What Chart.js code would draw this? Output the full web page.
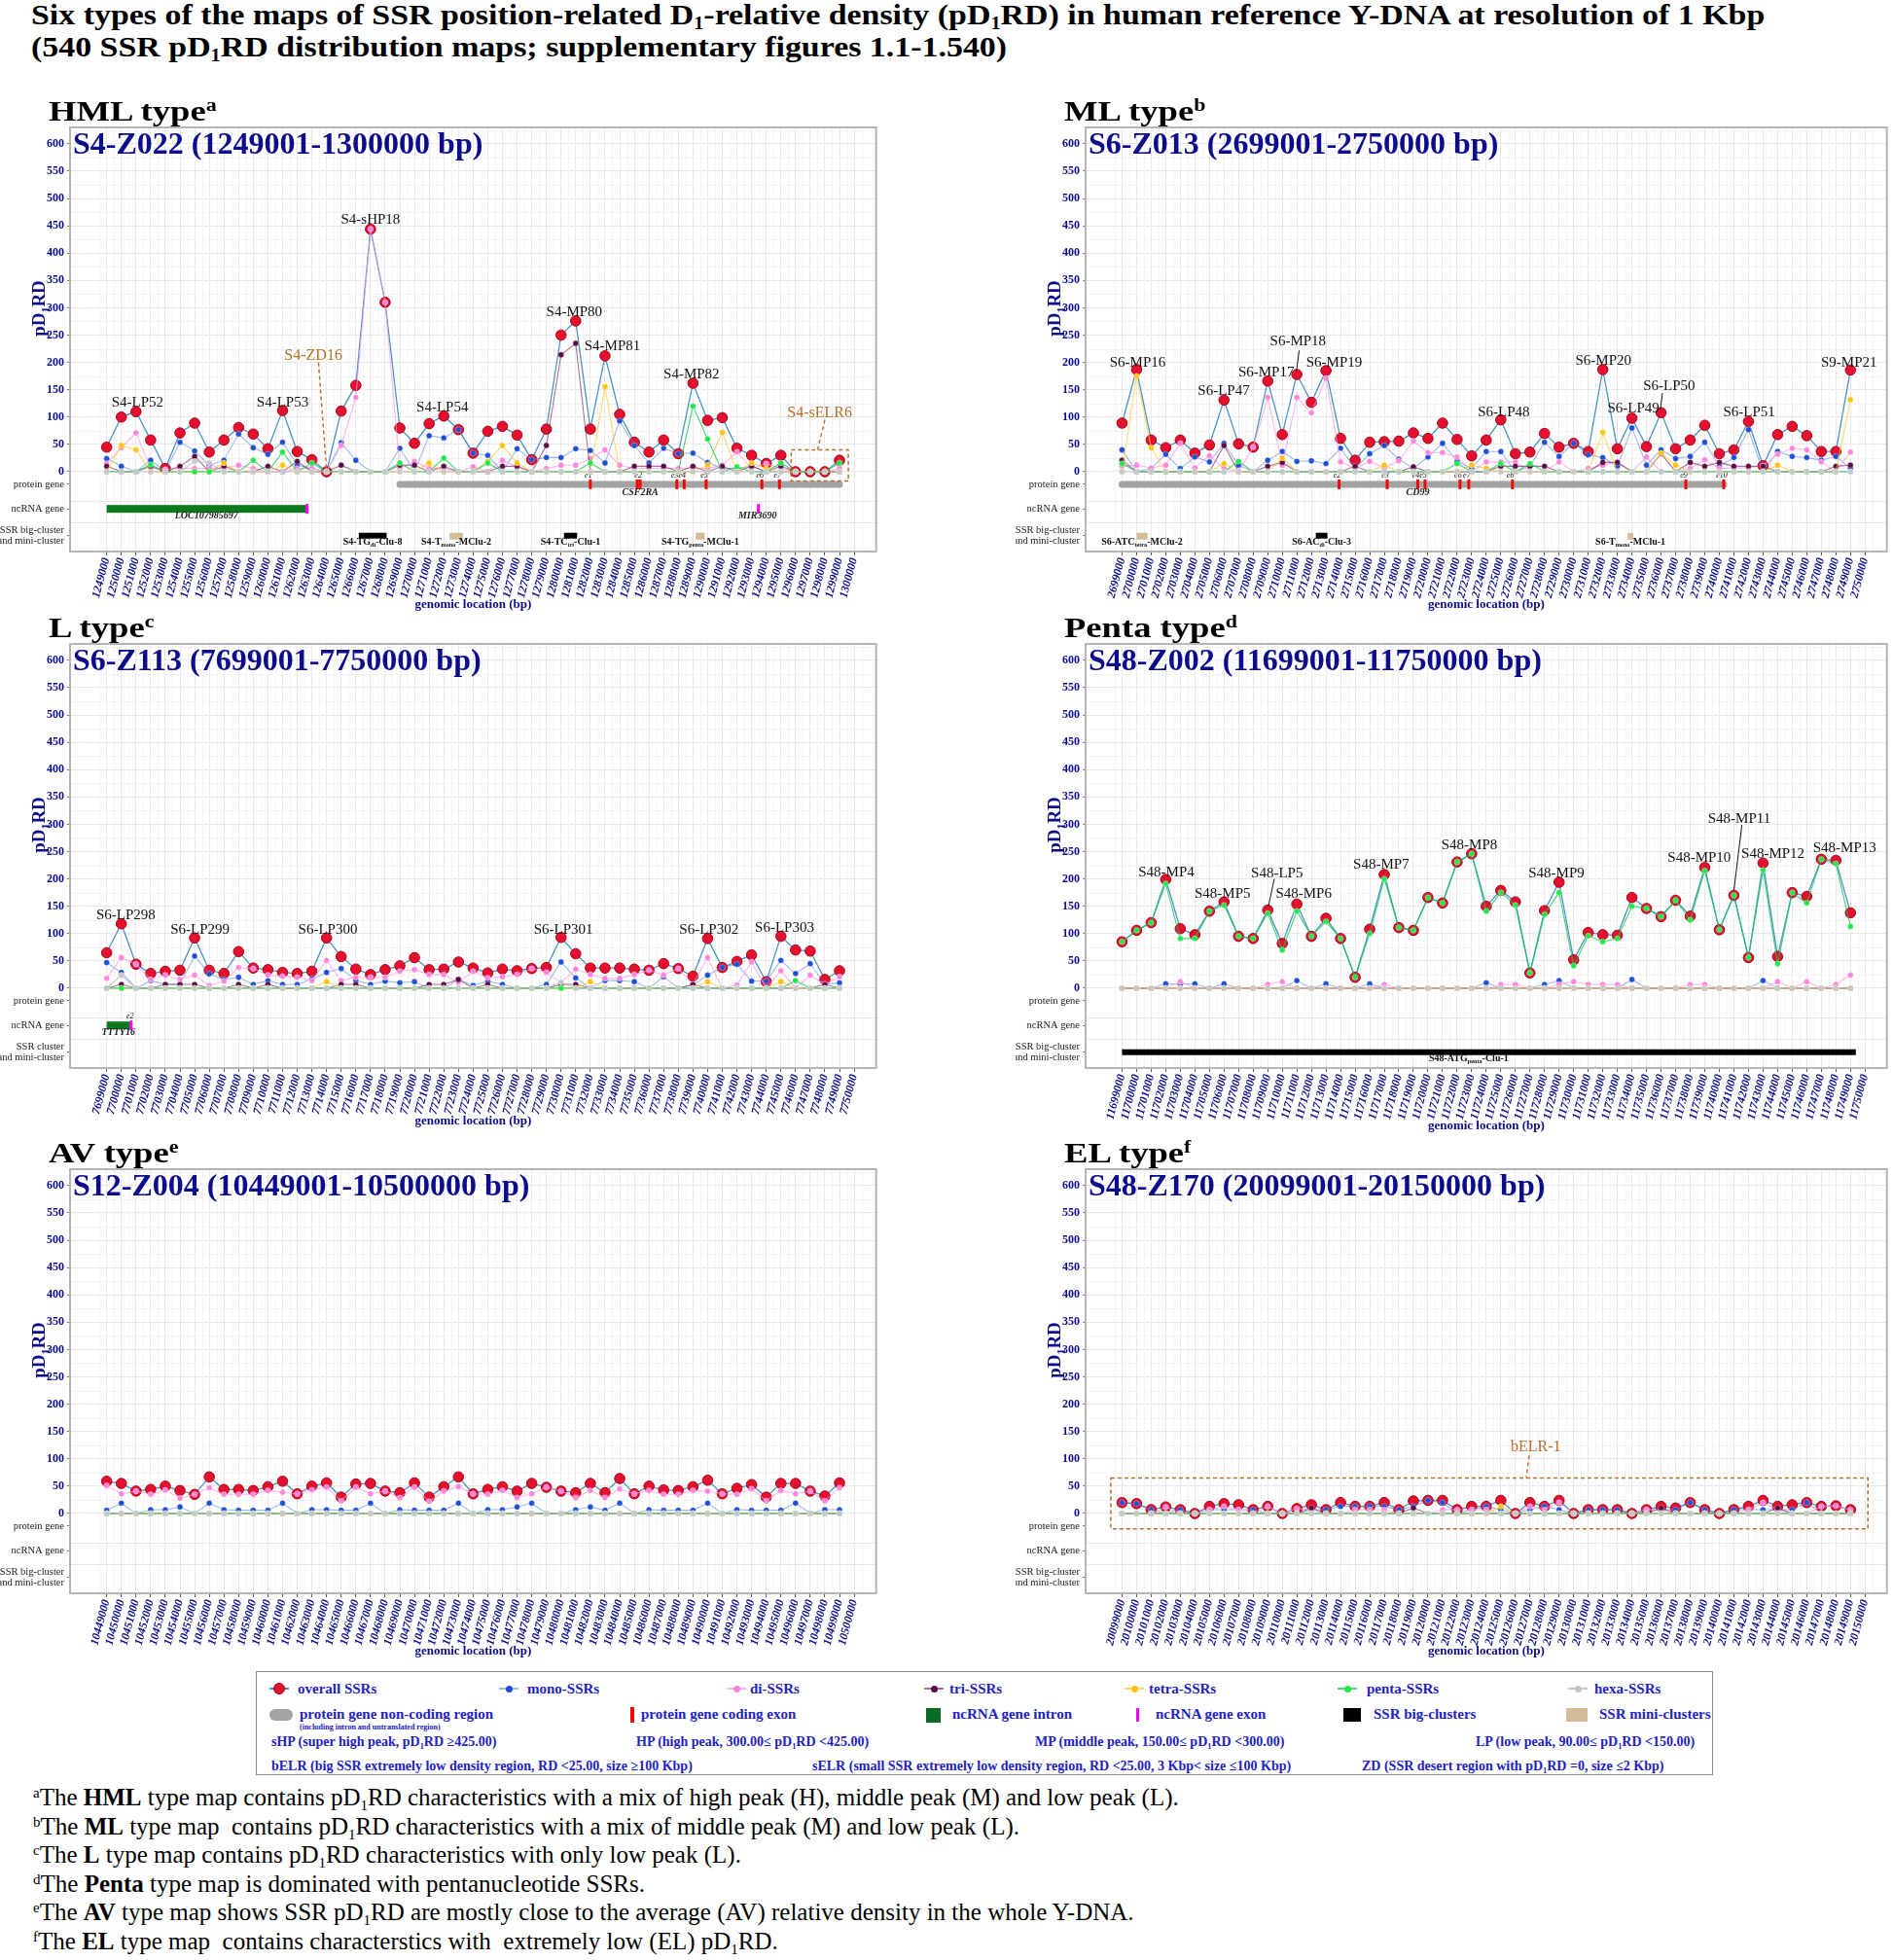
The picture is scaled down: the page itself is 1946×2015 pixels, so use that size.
<!DOCTYPE html>
<html>
<head>
<meta charset="utf-8">
<script src="https://cdn.jsdelivr.net/npm/chart.js@4.4.1/dist/chart.umd.min.js"></script>
<style>
  body { margin: 0; background: #fff; width: 1946px; height: 2015px; position: relative; overflow: hidden;
         font-family: "Liberation Serif", "Times New Roman", serif; }
  .abs { position: absolute; white-space: nowrap; }
  .title { left: 32px; top: -2px; font-weight: bold; font-size: 30px; line-height: 33px; color: #000;
           transform: scaleX(1.13); transform-origin: 0 0; }
  sub { font-size: 60%; vertical-align: -0.3em; line-height: 0; }
  sup { font-size: 60%; vertical-align: 0.55em; line-height: 0; }
  .head { font-weight: bold; font-size: 30px; line-height: 28px; color: #000; transform: scaleX(1.22); transform-origin: 0 0; }
  .lg { font-weight: bold; font-size: 15px; line-height: 18px; color: #2222c4; }
  .lg2 { font-weight: bold; font-size: 14px; line-height: 18px; color: #2222c4; }
  .foot { left: 34px; font-size: 25px; line-height: 24px; color: #000; }
  canvas { display: block; }
</style>
</head>
<body>
<div class="abs title">Six types of the maps of SSR position-related D<sub>1</sub>-relative density (pD<sub>1</sub>RD) in human reference Y-DNA at resolution of 1 Kbp<br>(540 SSR pD<sub>1</sub>RD distribution maps; supplementary figures 1.1-1.540)</div>
<div id="root"></div>
<script>
// ---------- HML type: S4-Z022 ----------
const hmlOverall = [45,100,110,58,6,71,89,36,58,81,69,42,112,37,22,0,111,158,444,310,80,52,88,102,77,34,74,83,67,22,78,250,276,78,212,105,54,36,58,33,162,94,99,43,30,15,30,0,0,0,21];
const hmlMono    = [24,10,0,21,0,54,38,12,21,69,44,32,54,12,6,0,53,21,0,0,43,0,66,62,77,34,30,0,42,22,26,26,42,39,16,93,48,16,43,33,34,17,6,6,10,0,0,0,0,0,0];
const hmlDi      = [15,44,71,6,4,6,6,6,6,12,6,0,0,6,6,0,48,136,444,310,6,19,6,6,0,9,0,21,9,0,6,12,12,24,40,12,6,6,6,6,6,6,12,36,6,15,6,0,0,0,6];
const hmlTri     = [10,0,0,10,0,10,28,0,10,0,0,10,0,19,0,0,12,0,0,0,12,12,0,10,0,0,0,10,10,0,48,214,235,0,0,0,10,10,10,0,10,0,10,0,10,0,10,0,0,0,0];
const hmlTetra   = [0,48,40,0,0,0,0,0,16,0,0,0,12,0,0,0,0,0,0,0,0,0,16,0,0,0,19,48,16,0,0,0,0,0,156,0,0,0,0,0,0,12,72,0,16,6,0,0,0,0,0];
const hmlPenta   = [0,0,0,13,0,0,0,0,0,0,21,0,36,0,16,0,0,0,0,0,16,0,0,25,0,0,16,0,0,0,0,0,0,16,0,0,0,0,0,0,120,60,0,9,0,0,16,0,0,0,16];
const hmlHexa    = [0,0,0,0,0,0,19,16,0,0,0,0,0,0,0,0,0,0,0,0,0,0,0,0,0,0,0,0,0,0,0,0,0,0,0,0,0,0,0,0,0,0,0,0,0,0,0,0,0,0,0];
const hmlPeaks = [
  {t: 'S4-LP52', x: 2.1, y: 126}, {t: 'S4-LP53', x: 12, y: 126}, {t: 'S4-sHP18', x: 18, y: 460},
  {t: 'S4-LP54', x: 22.9, y: 118}, {t: 'S4-MP80', x: 31.9, y: 292}, {t: 'S4-MP81', x: 34.5, y: 229},
  {t: 'S4-MP82', x: 39.9, y: 178}, {t: 'S4-ZD16', x: 14.1, y: 212, brown: true}, {t: 'S4-sELR6', x: 48.65, y: 107, brown: true}
];
const hmlLeaders = [{x1: 14.45, y1: 200, x2: 15, y2: 4, brown: true}, {x1: 49.0, y1: 95, x2: 48.5, y2: 40, brown: true}];
const hmlRegions = [{x1: 46.7, x2: 50.6, y1: 40, y2: -17}];
const hmlGene = {from: 20, to: 50, name: 'CSF2RA', nameAt: 36.4,
  exons: [[33.0, 'e1'], [36.2, ''], [36.4, 'e2'], [38.9, 'e3'], [39.4, 'e4'], [40.9, 'e5'], [44.7, 'e6'], [45.9, 'e7']]};
const hmlRna = [{from: 0, to: 13.6, name: 'LOC107985697', nameAt: 6.8}, {from: 44.4, to: 44.4, name: 'MIR3690', nameAt: 44.4}];
const hmlClusters = [
  {from: 17.2, to: 19.1, big: true, lab: ['S4-TG', 'di', '-Clu-8']},
  {from: 23.4, to: 24.3, big: false, lab: ['S4-T', 'mono', '-MClu-2']},
  {from: 31.2, to: 32.1, big: true, lab: ['S4-TC', 'tri', '-Clu-1']},
  {from: 40.2, to: 40.8, big: false, lab: ['S4-TG', 'penta', '-MClu-1']}
];

// ---------- ML type: S6-Z013 ----------
const mlOverall = [89,187,58,44,58,34,49,131,51,45,166,68,178,127,185,61,21,54,55,56,71,61,89,59,29,58,95,33,36,70,45,52,37,187,42,98,46,108,42,58,85,33,40,92,11,68,83,66,37,37,186];
const mlMono    = [40,0,6,32,6,27,18,52,12,0,21,37,19,20,15,43,6,33,48,23,6,27,52,19,6,37,37,0,10,54,28,52,31,26,10,80,12,40,24,28,54,10,26,77,0,37,28,26,21,28,6];
const mlDi      = [10,12,7,12,52,7,29,6,0,45,136,12,136,108,171,18,6,19,7,20,56,35,35,27,0,18,18,18,0,0,18,0,6,12,18,0,27,0,0,6,22,6,7,7,11,32,43,40,18,0,36];
const mlTri     = [21,0,0,0,0,0,0,48,0,0,10,17,0,0,0,0,10,0,0,0,9,0,0,0,0,0,10,10,10,10,0,0,0,17,17,0,0,33,0,17,10,17,10,10,10,0,0,0,0,10,12];
const mlTetra   = [0,175,44,0,0,0,0,15,0,0,0,25,0,0,0,0,0,0,12,0,0,0,0,0,12,6,0,0,0,0,0,0,0,72,0,0,0,34,12,0,0,0,0,0,0,12,0,0,0,0,132];
const mlPenta   = [15,0,0,0,0,0,0,0,19,0,0,0,0,0,0,0,0,0,0,0,0,0,0,15,0,0,15,0,15,0,0,0,0,0,0,0,0,0,0,0,0,0,0,0,0,0,0,0,0,0,0];
const mlHexa    = [0,0,0,0,0,0,0,0,0,0,0,0,0,0,0,0,0,0,0,0,0,0,0,0,0,0,0,0,0,0,0,0,0,0,0,0,0,0,0,0,0,0,0,0,0,0,0,0,0,0,0];
const mlPeaks = [
  {t: 'S6-MP16', x: 1.07, y: 200}, {t: 'S6-LP47', x: 6.98, y: 147}, {t: 'S6-MP17', x: 9.9, y: 181},
  {t: 'S6-MP18', x: 12.08, y: 238}, {t: 'S6-MP19', x: 14.56, y: 200}, {t: 'S6-LP48', x: 26.2, y: 109},
  {t: 'S6-MP20', x: 33.04, y: 202}, {t: 'S6-LP49', x: 35.1, y: 115}, {t: 'S6-LP50', x: 37.55, y: 156},
  {t: 'S6-LP51', x: 43.05, y: 108}, {t: 'S9-MP21', x: 49.9, y: 200}
];
const mlLeaders = [{x1: 12.16, y1: 222, x2: 11.97, y2: 184}, {x1: 37.1, y1: 144, x2: 36.95, y2: 114}];
const mlGene = {from: 0, to: 41.3, name: 'CD99', nameAt: 20.3,
  exons: [[14.9, 'e2'], [18.2, 'e3'], [20.3, 'e4'], [20.8, 'e5'], [23.2, 'e6'], [23.8, 'e7'], [26.8, 'e8'], [38.7, 'e9'], [41.3, 'e10']]};
const mlClusters = [
  {from: 1.0, to: 1.75, big: false, lab: ['S6-ATC', 'tetra', '-MClu-2']},
  {from: 13.3, to: 14.1, big: true, lab: ['S6-AC', 'di', '-Clu-3']},
  {from: 34.7, to: 35.1, big: false, lab: ['S6-T', 'mono', '-MClu-1']}
];

// ---------- L type: S6-Z113 ----------
const lOverall = [65,118,44,27,31,33,92,33,27,67,37,34,29,27,31,92,58,35,25,34,41,56,34,35,48,37,28,35,32,36,38,93,63,37,37,37,35,33,45,36,22,91,38,49,61,12,95,70,68,16,32];
const lMono    = [47,29,0,14,7,7,59,26,16,20,7,14,7,7,17,29,36,14,7,13,10,12,0,0,16,5,13,7,0,0,7,48,19,0,14,14,12,0,21,0,6,24,38,44,13,13,51,27,45,7,10];
const lDi      = [18,56,44,16,24,16,24,5,13,38,36,24,22,20,14,51,14,20,20,20,31,34,25,25,11,31,19,21,25,36,29,10,35,25,18,18,25,33,24,36,7,56,0,6,48,0,32,0,24,7,21];
const lTri     = [0,7,0,0,7,7,7,0,0,7,0,7,0,0,0,0,7,7,0,0,0,0,7,7,16,0,7,0,0,0,0,7,7,0,0,0,0,0,0,0,7,0,0,0,0,0,0,0,0,7,0];
const lTetra   = [0,0,0,0,0,0,0,0,0,0,0,0,0,0,0,12,0,0,0,0,0,0,0,0,0,0,0,0,0,0,0,0,0,12,0,0,0,0,0,0,0,12,0,0,0,0,12,0,0,0,0];
const lPenta   = [0,0,0,0,0,0,0,0,0,0,0,0,0,0,0,0,0,0,0,0,0,0,0,0,0,0,0,0,0,0,0,0,0,0,0,0,0,0,0,0,0,0,0,0,0,0,0,14,0,0,0];
const lHexa    = [0,24,0,0,0,0,0,0,0,0,0,0,0,0,0,0,0,0,0,0,0,0,0,0,0,0,0,0,0,0,0,11,0,0,0,0,0,0,0,0,0,0,0,0,0,0,0,0,0,0,0];
const lPeaks = [
  {t: 'S6-LP298', x: 1.31, y: 133}, {t: 'S6-LP299', x: 6.37, y: 107}, {t: 'S6-LP300', x: 15.09, y: 107},
  {t: 'S6-LP301', x: 31.16, y: 107}, {t: 'S6-LP302', x: 41.09, y: 107}, {t: 'S6-LP303', x: 46.25, y: 111}
];
const lRna = [{from: 0, to: 1.6, name: 'TTTY16', nameAt: 0.8, tag: 'e2'}];

// ---------- Penta type: S48-Z002 ----------
const pnOverall = [85,106,120,199,109,98,141,158,95,91,143,82,154,95,128,91,20,108,208,111,106,166,156,231,246,150,179,158,28,142,194,52,102,98,97,166,146,131,161,132,221,107,170,56,229,58,175,168,236,234,138];
const pnMono    = [0,0,0,8,8,8,0,8,0,0,0,0,14,0,8,0,0,8,0,0,0,0,0,0,0,10,0,0,0,7,14,0,0,0,0,16,0,0,0,0,0,0,0,0,14,0,0,0,0,0,0];
const pnDi      = [0,0,0,0,12,0,0,0,0,0,7,12,0,0,0,0,0,0,7,0,0,0,0,0,0,0,7,7,0,0,7,12,7,7,7,0,0,0,0,7,7,0,0,0,0,12,0,12,0,7,24];
const pnTri     = [0,0,0,0,0,0,0,0,0,0,0,0,0,0,0,0,0,0,0,0,0,0,0,0,0,0,0,0,0,0,0,0,0,0,0,0,0,0,0,0,0,0,0,0,0,0,0,0,0,0,0];
const pnTetra   = pnTri;
const pnPenta   = [85,106,120,191,91,91,141,152,95,91,137,70,141,95,122,91,20,100,200,111,106,166,156,231,246,141,175,152,28,135,175,41,96,85,91,150,146,131,161,125,215,107,170,56,216,45,175,156,236,228,113];
const pnHexa    = pnTri;
const pnPeaks = [
  {t: 'S48-MP4', x: 3.04, y: 212}, {t: 'S48-MP5', x: 6.9, y: 172}, {t: 'S48-LP5', x: 10.64, y: 210},
  {t: 'S48-MP6', x: 12.47, y: 172}, {t: 'S48-MP7', x: 17.79, y: 225}, {t: 'S48-MP8', x: 23.84, y: 261},
  {t: 'S48-MP9', x: 29.82, y: 210}, {t: 'S48-MP10', x: 39.62, y: 239}, {t: 'S48-MP11', x: 42.37, y: 309},
  {t: 'S48-MP12', x: 44.68, y: 245}, {t: 'S48-MP13', x: 49.6, y: 257}
];
const pnLeaders = [{x1: 10.45, y1: 200, x2: 10.05, y2: 150}, {x1: 42.55, y1: 299, x2: 42.0, y2: 179}];
const pnClusters = [{from: 0, to: 50.37, big: true, at: 23.8, lab: ['S48-ATG', 'penta', '-Clu-1']}];

// ---------- AV type: S12-Z004 ----------
const avOverall = [59,55,41,44,50,42,35,67,44,44,42,49,59,36,50,56,30,54,55,41,38,56,30,49,67,36,44,49,41,55,48,41,38,55,38,64,36,50,43,42,49,61,36,46,53,30,55,55,41,32,56];
const avMono    = [6,19,0,7,7,12,0,19,7,6,6,6,19,0,7,7,6,6,19,0,7,6,6,6,19,0,7,7,12,19,0,0,7,12,6,19,0,7,6,6,6,19,0,7,6,6,6,19,0,7,7];
const avDi      = [51,36,41,35,43,28,35,47,35,35,35,42,39,36,43,48,23,48,36,41,29,48,22,41,49,36,35,42,29,36,48,41,29,42,29,45,36,42,35,35,42,41,36,35,45,23,42,36,41,23,47];
const avZero    = [0,0,0,0,0,0,0,0,0,0,0,0,0,0,0,0,0,0,0,0,0,0,0,0,0,0,0,0,0,0,0,0,0,0,0,0,0,0,0,0,0,0,0,0,0,0,0,0,0,0,0];

// ---------- EL type: S48-Z170 ----------
const elOverall = [20,18,7,12,7,0,13,18,16,7,13,0,9,16,7,20,13,13,20,7,23,24,24,7,13,13,24,0,20,13,24,0,7,7,7,0,7,13,10,20,7,0,7,13,24,13,16,20,13,14,7];
const elMono    = [20,18,7,0,7,0,7,7,7,7,0,0,0,7,7,13,13,13,13,7,13,24,20,0,7,13,7,0,7,13,7,0,7,7,7,0,7,7,7,20,7,0,7,7,7,7,7,20,0,0,0];
const elDi      = [0,0,0,12,0,0,7,13,7,0,13,0,9,7,0,0,7,7,7,0,0,0,7,7,7,7,0,0,13,7,20,0,0,0,0,0,7,7,0,0,0,0,0,7,20,7,0,0,13,14,7];
const elTri     = [0,0,0,0,0,0,0,0,0,0,0,0,0,10,0,0,0,0,0,0,10,0,0,0,0,0,0,0,0,0,0,0,0,0,0,0,0,10,0,0,0,0,0,0,0,10,0,0,0,0,0];
const elTetra   = [0,0,0,0,0,0,0,0,0,0,0,0,0,0,0,0,0,0,0,0,0,0,0,0,0,0,13,0,0,0,0,0,0,0,0,0,0,0,0,0,0,0,0,0,0,0,0,0,0,0,0];
const elPeaks = [{t: 'bELR-1', x: 28.4, y: 121, brown: true}];
const elLeaders = [{x1: 27.95, y1: 106, x2: 27.75, y2: 65, brown: true}];
const elRegions = [{x1: -0.77, x2: 51.2, y1: 65, y2: -28}];

const NAVY = '#0c0c8c';
const BROWN = '#b86f2c';
const FONT = '"Liberation Serif", "Times New Roman", serif';

const panels = [
  {id: 'hml', head: 'HML type', sup: 'a', title: 'S4-Z022 (1249001-1300000 bp)', start: 1249000, col: 0, top: 131,
   s: [hmlOverall, hmlMono, hmlDi, hmlTri, hmlTetra, hmlPenta, hmlHexa], peaks: hmlPeaks, leaders: hmlLeaders,
   regions: hmlRegions, gene: hmlGene, rna: hmlRna, clusters: hmlClusters},
  {id: 'ml', head: 'ML type', sup: 'b', title: 'S6-Z013 (2699001-2750000 bp)', start: 2699000, col: 1, top: 131,
   s: [mlOverall, mlMono, mlDi, mlTri, mlTetra, mlPenta, mlHexa], peaks: mlPeaks, leaders: mlLeaders,
   gene: mlGene, clusters: mlClusters},
  {id: 'l', head: 'L type', sup: 'c', title: 'S6-Z113 (7699001-7750000 bp)', start: 7699000, col: 0, top: 662,
   s: [lOverall, lMono, lDi, lTri, lTetra, lPenta, lHexa], peaks: lPeaks, rna: lRna, clusterName: 'SSR cluster'},
  {id: 'pn', head: 'Penta type', sup: 'd', title: 'S48-Z002 (11699001-11750000 bp)', start: 11699000, col: 1, top: 662,
   s: [pnOverall, pnMono, pnDi, pnTri, pnTetra, pnPenta, pnHexa], peaks: pnPeaks, leaders: pnLeaders, clusters: pnClusters},
  {id: 'av', head: 'AV type', sup: 'e', title: 'S12-Z004 (10449001-10500000 bp)', start: 10449000, col: 0, top: 1202,
   s: [avOverall, avMono, avDi, avZero, avZero, avZero, avZero]},
  {id: 'el', head: 'EL type', sup: 'f', title: 'S48-Z170 (20099001-20150000 bp)', start: 20099000, col: 1, top: 1202,
   s: [elOverall, elMono, elDi, elTri, elTetra, avZero, avZero], peaks: elPeaks, leaders: elLeaders, regions: elRegions}
];

const seriesStyle = [
  {line: '#4a93c9', pt: '#e5102e', bd: '#a3061c', r: 5.3, w: 1.3},           // overall
  {line: 'rgba(80,130,215,0.55)', pt: '#1d4fd6', r: 2.9, w: 1.1},            // mono
  {line: 'rgba(255,150,225,0.7)', pt: '#ff86da', r: 2.9, w: 1.1},            // di
  {line: 'rgba(110,20,80,0.6)', pt: '#5c0a45', r: 2.9, w: 1.1},              // tri
  {line: 'rgba(255,200,50,0.7)', pt: '#ffc20e', r: 2.9, w: 1.1},             // tetra
  {line: 'rgba(20,200,80,0.75)', pt: '#21e84a', r: 2.9, w: 1.2},             // penta
  {line: 'rgba(175,175,175,0.7)', pt: '#c6c6c6', r: 2.9, w: 1.1}             // hexa
];

const colX = [{boxL: 72, boxW: 830}, {boxL: 1116, boxW: 825}];
const BOX_H = 436, PAD_T = 12, LEFT_W = 72;
const yMain = [0, 50, 100, 150, 200, 250, 300, 350, 400, 450, 500, 550, 600];
const yTrack = {'-23': 'protein gene', '-68': 'ncRNA gene'};

function rich(ctx, parts, x, y, size, weight, style, align, color) {
  const f = s => `${style || 'normal'} ${weight || 'normal'} ${s}px ${FONT}`;
  let w = 0;
  parts.forEach((t, k) => { ctx.font = f(k % 2 ? size * 0.62 : size); w += ctx.measureText(t).width; });
  let cx = align === 'center' ? x - w / 2 : align === 'right' ? x - w : x;
  ctx.fillStyle = color; ctx.textAlign = 'left'; ctx.textBaseline = 'alphabetic';
  parts.forEach((t, k) => {
    const sub = k % 2 === 1;
    ctx.font = f(sub ? size * 0.62 : size);
    ctx.fillText(t, cx, sub ? y + size * 0.28 : y);
    cx += ctx.measureText(t).width;
  });
}

function deco(p) {
  return {
    id: 'deco',
    beforeDatasetsDraw(chart) {
      const {ctx, chartArea: a, scales: {x, y}} = chart;
      ctx.save();
      ctx.strokeStyle = '#f3f3f3'; ctx.lineWidth = 1;
      for (let v = 25; v <= 625; v += 50) {
        const py = Math.round(y.getPixelForValue(v)) + 0.5;
        ctx.beginPath(); ctx.moveTo(a.left, py); ctx.lineTo(a.right, py); ctx.stroke();
      }
      for (let v = -0.5; v <= 51.5; v += 1) {
        const px = Math.round(x.getPixelForValue(v)) + 0.5;
        ctx.beginPath(); ctx.moveTo(px, a.top); ctx.lineTo(px, a.bottom); ctx.stroke();
      }
      ctx.strokeStyle = '#e6e6e6';
      [-53, -93].forEach(v => {
        const py = Math.round(y.getPixelForValue(v)) + 0.5;
        ctx.beginPath(); ctx.moveTo(a.left, py); ctx.lineTo(a.right, py); ctx.stroke();
      });
      // protein gene track
      if (p.gene) {
        const g = p.gene, gy = y.getPixelForValue(-23);
        ctx.strokeStyle = '#a3a3a3'; ctx.lineWidth = 7; ctx.lineCap = 'round';
        ctx.beginPath(); ctx.moveTo(x.getPixelForValue(g.from), gy); ctx.lineTo(x.getPixelForValue(g.to), gy); ctx.stroke();
        ctx.fillStyle = '#ff0000';
        g.exons.forEach(e => ctx.fillRect(x.getPixelForValue(e[0]) - 1.5, gy - 5, 3, 10));
        g.exons.forEach(e => { if (e[1]) rich(ctx, [e[1]], x.getPixelForValue(e[0]) - 2, gy - 7, 8, 'normal', 'italic', 'center', '#111'); });
        rich(ctx, [g.name], x.getPixelForValue(g.nameAt), y.getPixelForValue(-42), 10, 'bold', 'italic', 'center', '#222');
      }
      // ncRNA track
      if (p.rna) {
        const ry = y.getPixelForValue(-68);
        p.rna.forEach(r => {
          const x1 = x.getPixelForValue(r.from), x2 = x.getPixelForValue(r.to);
          if (x2 > x1) { ctx.fillStyle = '#0a7a1c'; ctx.fillRect(x1, ry - 4, x2 - x1, 8); }
          ctx.fillStyle = '#ff00ff'; ctx.fillRect(x2 - 0.5, ry - 5, 3, 10);
          rich(ctx, [r.name], x.getPixelForValue(r.nameAt), y.getPixelForValue(-86), 10, 'bold', 'italic', 'center', '#222');
          if (r.tag) rich(ctx, [r.tag], x2, ry - 7, 8, 'normal', 'italic', 'center', '#111');
        });
      }
      // SSR cluster track
      if (p.clusters) {
        const cy = y.getPixelForValue(-117);
        p.clusters.forEach(c => {
          const x1 = x.getPixelForValue(c.from), x2 = x.getPixelForValue(c.to);
          ctx.fillStyle = c.big ? '#000' : '#d4bc98';
          ctx.fillRect(x1, cy - 3, x2 - x1, c.big ? 6 : 7);
          const cx = c.at !== undefined ? x.getPixelForValue(c.at) : (x1 + x2) / 2;
          rich(ctx, c.lab, cx, y.getPixelForValue(-133), 10, 'bold', 'normal', 'center', '#111');
        });
      }
      ctx.restore();
    },
    afterDatasetsDraw(chart) {
      const {ctx, chartArea: a, scales: {x, y}} = chart;
      ctx.save();
      (p.regions || []).forEach(r => {
        ctx.strokeStyle = BROWN; ctx.lineWidth = 1.5; ctx.setLineDash([4, 3]);
        const x1 = x.getPixelForValue(r.x1), x2 = x.getPixelForValue(r.x2);
        const y1 = y.getPixelForValue(r.y1), y2 = y.getPixelForValue(r.y2);
        ctx.strokeRect(x1, y1, x2 - x1, y2 - y1);
      });
      (p.leaders || []).forEach(l => {
        ctx.strokeStyle = l.brown ? BROWN : '#111'; ctx.lineWidth = l.brown ? 1.4 : 1;
        ctx.setLineDash(l.brown ? [4, 3] : []);
        ctx.beginPath(); ctx.moveTo(x.getPixelForValue(l.x1), y.getPixelForValue(l.y1));
        ctx.lineTo(x.getPixelForValue(l.x2), y.getPixelForValue(l.y2)); ctx.stroke();
      });
      ctx.setLineDash([]);
      (p.peaks || []).forEach(k => {
        ctx.font = `${k.brown ? 16 : 15}px ${FONT}`;
        ctx.fillStyle = k.brown ? BROWN : '#111'; ctx.textAlign = 'center'; ctx.textBaseline = 'middle';
        ctx.fillText(k.t, x.getPixelForValue(k.x), y.getPixelForValue(k.y));
      });
      // panel title and y-axis title
      rich(ctx, [p.title], a.left + 3, a.top + 27, 32, 'bold', 'normal', 'left', NAVY);
      ctx.translate(a.left - 32, y.getPixelForValue(299));
      ctx.rotate(-Math.PI / 2);
      rich(ctx, ['pD', '1', 'RD'], 0, 6, 19, 'bold', 'normal', 'center', NAVY);
      ctx.restore();
      ctx.save();
      ctx.strokeStyle = '#b5b5b5'; ctx.lineWidth = 2;
      ctx.strokeRect(a.left, a.top, a.right - a.left, a.bottom - a.top);
      ctx.restore();
    }
  };
}

function makePanel(p) {
  const c = colX[p.col];
  const long = String(p.start).length > 7;
  const xH = long ? 68 : 63;
  const W = LEFT_W + c.boxW + 5, H = PAD_T + BOX_H + xH;
  const wrap = document.createElement('div');
  wrap.className = 'abs';
  wrap.style.left = (c.boxL - LEFT_W) + 'px';
  wrap.style.top = (p.top - PAD_T) + 'px';
  const cv = document.createElement('canvas');
  cv.width = W; cv.height = H;
  wrap.appendChild(cv);
  document.getElementById('root').appendChild(wrap);

  const head = document.createElement('div');
  head.className = 'abs head';
  head.style.left = (c.boxL - 22) + 'px';
  head.style.top = (p.top - 31) + 'px';
  head.innerHTML = p.head + '<sup>' + p.sup + '</sup>';
  document.body.appendChild(head);

  const datasets = p.s.map((arr, k) => {
    const st = seriesStyle[k];
    return {
      data: arr.map((v, i) => ({x: i, y: v})),
      borderColor: st.line, borderWidth: st.w, tension: 0, fill: false,
      pointRadius: st.r, pointBackgroundColor: st.pt,
      pointBorderColor: st.bd || 'rgba(255,255,255,0.6)', pointBorderWidth: st.bd ? 1 : 0.5,
      order: 7 - k
    };
  });

  new Chart(cv, {
    type: 'line',
    data: {datasets},
    options: {
      responsive: false, animation: false, devicePixelRatio: 1,
      layout: {padding: {top: PAD_T, right: 5, left: 0, bottom: 0}},
      plugins: {legend: {display: false}, tooltip: {enabled: false}},
      scales: {
        x: {
          type: 'linear', min: -2.5, max: 52.5,
          afterBuildTicks: s => { s.ticks = Array.from({length: 52}, (_, i) => ({value: i})); },
          afterFit: s => { s.height = xH; },
          ticks: {autoSkip: false, minRotation: 75, maxRotation: 75, padding: 1, color: NAVY,
                  font: {family: FONT, size: 12, weight: 'bold', style: 'italic'},
                  callback: v => String(p.start + v * 1000)},
          grid: {color: '#e9e9e9', tickLength: 4, tickColor: '#555'},
          border: {display: false},
          title: {display: true, text: 'genomic location (bp)', color: NAVY,
                  font: {family: FONT, size: 13, weight: 'bold'}, padding: {top: 0, bottom: 1}}
        },
        y: {
          type: 'linear', min: -146, max: 630,
          afterBuildTicks: s => { s.ticks = [-117, -68, -23].concat(yMain).map(v => ({value: v})); },
          afterFit: s => { s.width = LEFT_W; },
          ticks: {
            autoSkip: false, padding: 3,
            callback: v => v >= 0 ? String(v) : (v === -117 ? [p.clusterName || 'SSR big-cluster', 'and mini-cluster'] : yTrack[String(v)]),
            font: ctx => ctx.tick && ctx.tick.value < 0
              ? {family: FONT, size: 10.5, lineHeight: 1.05}
              : {family: FONT, size: 12, weight: 'bold'},
            color: ctx => ctx.tick && ctx.tick.value < 0 ? '#222' : NAVY
          },
          grid: {color: ctx => ctx.tick && ctx.tick.value < 0 ? 'rgba(0,0,0,0)' : '#e9e9e9', tickLength: 3, tickColor: '#777'},
          border: {display: false}
        }
      }
    },
    plugins: [deco(p)]
  });
}

panels.forEach(makePanel);

// ---------- legend ----------
const legendSeries = [
  {name: 'overall SSRs', m: 287, t: 306, k: 0},
  {name: 'mono-SSRs', m: 523, t: 542, k: 1},
  {name: 'di-SSRs', m: 757, t: 771, k: 2},
  {name: 'tri-SSRs', m: 960, t: 976, k: 3},
  {name: 'tetra-SSRs', m: 1166, t: 1181, k: 4},
  {name: 'penta-SSRs', m: 1385, t: 1405, k: 5},
  {name: 'hexa-SSRs', m: 1622, t: 1639, k: 6}
];
const legendTracks = [
  {name: 'protein gene non-coding region', t: 308, box: [277, 1757, 24, 12, '#a3a3a3', 6]},
  {name: 'protein gene coding exon', t: 659, box: [648, 1755, 4, 16, '#ff0000', 0]},
  {name: 'ncRNA gene intron', t: 979, box: [952, 1756, 15, 15, '#0a6a26', 0]},
  {name: 'ncRNA gene exon', t: 1188, box: [1168, 1756, 3, 14, '#ff00ff', 0]},
  {name: 'SSR big-clusters', t: 1412, box: [1381, 1756, 18, 14, '#000', 0]},
  {name: 'SSR mini-clusters', t: 1644, box: [1610, 1756, 22, 14, '#d4bc98', 0]}
];
const legendNotes = [
  {html: 'sHP (super high peak, pD<sub>1</sub>RD &ge;425.00)', x: 279, y: 1782},
  {html: 'HP (high peak, 300.00&le; pD<sub>1</sub>RD &lt;425.00)', x: 654, y: 1782},
  {html: 'MP (middle peak, 150.00&le; pD<sub>1</sub>RD &lt;300.00)', x: 1064, y: 1782},
  {html: 'LP (low peak, 90.00&le; pD<sub>1</sub>RD &lt;150.00)', x: 1517, y: 1782},
  {html: 'bELR (big SSR extremely low density region, RD &lt;25.00, size &ge;100 Kbp)', x: 279, y: 1807},
  {html: 'sELR (small SSR extremely low density region, RD &lt;25.00, 3 Kbp&lt; size &le;100 Kbp)', x: 835, y: 1807},
  {html: 'ZD (SSR desert region with pD<sub>1</sub>RD =0, size &le;2 Kbp)', x: 1400, y: 1807}
];

function addDiv(cls, html, css) {
  const d = document.createElement('div');
  d.className = 'abs ' + cls;
  d.innerHTML = html;
  Object.assign(d.style, css);
  document.body.appendChild(d);
  return d;
}

addDiv('', '', {left: '263px', top: '1718px', width: '1496px', height: '105px', border: '1.5px solid #8c8c8c'});
legendSeries.forEach(s => {
  const st = seriesStyle[s.k];
  addDiv('', '', {left: (s.m - 10) + 'px', top: '1735px', width: '20px', height: '2px', background: st.line});
  const r = s.k === 0 ? 6 : 3.5;
  addDiv('', '', {left: (s.m - r) + 'px', top: (1736 - r) + 'px', width: 2 * r + 'px', height: 2 * r + 'px',
    borderRadius: '50%', background: st.pt, boxSizing: 'border-box', border: s.k === 0 ? '1px solid #a3061c' : 'none'});
  addDiv('lg', s.name, {left: s.t + 'px', top: '1727px'});
});
legendTracks.forEach(s => {
  const b = s.box;
  addDiv('', '', {left: b[0] + 'px', top: b[1] + 'px', width: b[2] + 'px', height: b[3] + 'px', background: b[4], borderRadius: b[5] + 'px'});
  addDiv('lg', s.name, {left: s.t + 'px', top: '1753px'});
});
addDiv('', '(including intron and untranslated region)', {left: '308px', top: '1771px', fontSize: '8px', fontWeight: 'bold', color: '#2222c4'});
legendNotes.forEach(n => addDiv('lg2', n.html, {left: n.x + 'px', top: n.y + 'px'}));

// ---------- footnotes ----------
const footnotes = [
  ['a', 'The <b>HML</b> type map contains pD<sub>1</sub>RD characteristics with a mix of high peak (H), middle peak (M) and low peak (L).'],
  ['b', 'The <b>ML</b> type map &nbsp;contains pD<sub>1</sub>RD characteristics with a mix of middle peak (M) and low peak (L).'],
  ['c', 'The <b>L</b> type map contains pD<sub>1</sub>RD characteristics with only low peak (L).'],
  ['d', 'The <b>Penta</b> type map is dominated with pentanucleotide SSRs.'],
  ['e', 'The <b>AV</b> type map shows SSR pD<sub>1</sub>RD are mostly close to the average (AV) relative density in the whole Y-DNA.'],
  ['f', 'The <b>EL</b> type map &nbsp;contains characterstics with &nbsp;extremely low (EL) pD<sub>1</sub>RD.']
];
const footY = [1836, 1866, 1895, 1925, 1954, 1984];
footnotes.forEach((f, i) => addDiv('foot', '<sup>' + f[0] + '</sup>' + f[1], {top: footY[i] + 'px'}));
</script>
</body>
</html>
